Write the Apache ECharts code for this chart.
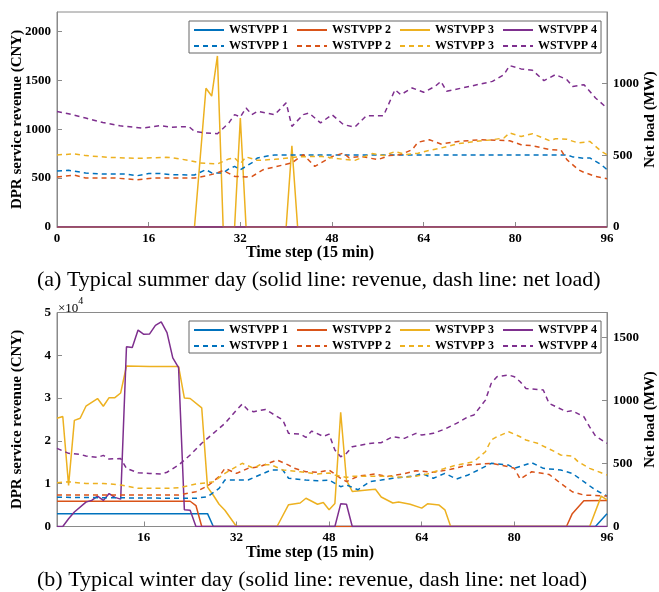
<!DOCTYPE html>
<html><head><meta charset="utf-8">
<script src="https://cdn.jsdelivr.net/npm/echarts@6/dist/echarts.min.js"></script>
<style>html,body{margin:0;padding:0;background:#fff}#c{width:659px;height:592px}</style>
</head><body><div id="c"></div>
<script>
const plantNames = ['WSTVPP 1', 'WSTVPP 2', 'WSTVPP 3', 'WSTVPP 4'];
const plantColors = ['#0072BD', '#D95319', '#EDB120', '#7E2F8E'];
const summerXTicks = [0, 16, 32, 48, 64, 80, 96];
const winterXTicks = [16, 32, 48, 64, 80, 96];

// ---- (a) summer: revenue (CNY), [time step, value]
const sumRev1 = [[0, 0], [96, 0]];
const sumRev2 = [[0, 0], [96, 0]];
const sumRev3 = [[0, 0], [24, 0], [26, 1420], [27, 1340], [28, 1750], [29, 0], [31, 0], [32, 1115], [33, 0], [40, 0], [41, 830], [42, 0], [96, 0]];
const sumRev4 = [[0, 0], [96, 0]];
// ---- (a) summer: net load (MW)
const sumLoad1 = [[0, 391], [2, 396], [5, 377], [8, 370], [12, 370], [14, 358], [16, 373], [18, 373], [20, 365], [24, 363], [26, 400], [27, 377], [29, 377], [30, 405], [31, 423], [32, 400], [34, 447], [35, 482], [37, 498], [38, 503], [89, 503], [90, 489], [92, 479], [93, 482], [95, 435], [96, 400]];
const sumLoad2 = [[0, 349], [3, 362], [5, 342], [10, 342], [14, 330], [17, 342], [24, 342], [26, 356], [28, 377], [29, 395], [30, 374], [31, 353], [33, 349], [34, 352], [36, 400], [38, 419], [41, 447], [43, 505], [45, 423], [48, 491], [50, 516], [51, 482], [53, 493], [56, 470], [58, 498], [60, 505], [62, 540], [63, 591], [65, 609], [67, 579], [70, 597], [74, 609], [79, 602], [81, 574], [83, 567], [86, 540], [88, 535], [89, 470], [91, 400], [92, 381], [94, 353], [96, 337]];
const sumLoad3 = [[0, 503], [3, 510], [5, 498], [9, 486], [14, 479], [19, 486], [20, 484], [23, 465], [25, 447], [28, 440], [30, 475], [31, 482], [32, 442], [33, 489], [35, 465], [38, 472], [42, 489], [46, 493], [50, 472], [52, 465], [55, 512], [57, 498], [59, 526], [61, 505], [63, 515], [65, 535], [67, 551], [70, 581], [73, 597], [76, 609], [78, 621], [79, 656], [81, 632], [83, 651], [86, 602], [87, 616], [89, 612], [91, 586], [93, 597], [95, 528], [96, 505]];
const sumLoad4 = [[0, 806], [2, 790], [5, 760], [8, 729], [11, 706], [15, 690], [18, 708], [20, 696], [23, 701], [24, 667], [26, 656], [28, 651], [30, 726], [31, 784], [32, 768], [33, 831], [34, 784], [35, 807], [38, 784], [40, 866], [41, 702], [43, 784], [44, 795], [46, 726], [48, 784], [50, 714], [52, 697], [54, 777], [57, 777], [59, 958], [60, 923], [62, 970], [64, 940], [66, 981], [67, 1016], [68, 947], [72, 981], [76, 1016], [78, 1063], [79, 1126], [81, 1103], [83, 1093], [85, 1021], [87, 1063], [89, 1028], [90, 981], [92, 993], [94, 900], [96, 830]];

// ---- (b) winter: revenue (CNY)
const winRev1 = [[1, 3000], [27, 3000], [28, 0], [94, 0], [96, 3000]];
const winRev2 = [[1, 5900], [24, 5900], [25, 4900], [26, 0], [89, 0], [90, 3000], [92, 6000], [96, 6100]];
const winRev3 = [[1, 25300], [2, 25700], [3, 9600], [4, 24800], [5, 25300], [6, 28100], [8, 29900], [9, 28100], [10, 30100], [11, 30100], [12, 31200], [13, 37500], [17, 37400], [22, 37400], [23, 30000], [24, 29900], [26, 27700], [27, 9200], [28, 7300], [29, 5200], [30, 3800], [32, 0], [39, 0], [41, 5100], [43, 5500], [44, 6600], [46, 5200], [47, 5600], [48, 3900], [49, 5400], [50, 26700], [51, 10800], [52, 8200], [55, 8600], [56, 8700], [57, 6900], [59, 5500], [60, 5700], [62, 5200], [64, 4300], [65, 5300], [67, 5000], [68, 3900], [69, 0], [93, 0], [95, 7100], [96, 6200]];
const winRev4 = [[1, 0], [2, 0], [3, 1800], [4, 3400], [6, 5700], [7, 6100], [8, 7100], [9, 6100], [10, 7700], [11, 6800], [12, 6400], [13, 42000], [14, 41800], [15, 45900], [16, 44900], [17, 45000], [18, 47000], [19, 47800], [20, 45300], [21, 39400], [22, 37100], [23, 3900], [24, 3800], [25, 0], [49, 0], [50, 5300], [51, 5200], [52, 0], [96, 0]];
// ---- (b) winter: net load (MW)
const winLoad1 = [[1, 232], [22, 224], [25, 224], [27, 237], [29, 303], [30, 369], [34, 369], [36, 409], [38, 449], [40, 449], [41, 383], [44, 369], [46, 364], [48, 369], [50, 316], [51, 330], [53, 292], [55, 356], [57, 369], [59, 383], [61, 392], [63, 405], [64, 422], [66, 383], [68, 422], [70, 377], [72, 409], [74, 454], [76, 502], [79, 488], [80, 462], [83, 507], [85, 462], [88, 449], [90, 422], [92, 356], [94, 290], [96, 242]];
const winLoad2 = [[1, 250], [22, 250], [25, 276], [27, 322], [29, 396], [30, 462], [32, 422], [34, 462], [36, 475], [39, 528], [41, 488], [42, 462], [44, 435], [46, 430], [48, 449], [50, 383], [51, 356], [53, 400], [56, 417], [58, 396], [61, 420], [63, 443], [66, 430], [69, 454], [72, 488], [76, 502], [79, 475], [80, 462], [81, 377], [83, 435], [86, 414], [88, 343], [90, 276], [92, 250], [96, 242]];
const winLoad3 = [[1, 348], [3, 355], [6, 342], [9, 342], [12, 330], [15, 303], [20, 303], [22, 308], [25, 337], [28, 355], [30, 422], [33, 502], [35, 462], [36, 490], [38, 490], [40, 449], [43, 435], [46, 417], [48, 425], [49, 409], [51, 390], [52, 400], [58, 400], [61, 390], [63, 400], [65, 417], [68, 462], [70, 488], [73, 515], [75, 594], [76, 687], [77, 713], [79, 753], [81, 713], [82, 687], [84, 661], [87, 594], [88, 568], [90, 560], [91, 515], [93, 462], [95, 427], [96, 409]];
const winLoad4 = [[1, 621], [3, 581], [5, 573], [6, 560], [8, 549], [9, 565], [10, 536], [12, 540], [13, 462], [15, 427], [17, 422], [19, 417], [20, 431], [22, 488], [24, 568], [26, 661], [28, 740], [30, 819], [32, 925], [33, 973], [34, 925], [35, 912], [37, 930], [38, 902], [40, 846], [41, 740], [43, 735], [44, 708], [45, 758], [47, 716], [48, 734], [49, 607], [50, 554], [51, 581], [52, 634], [55, 660], [57, 666], [59, 713], [61, 700], [63, 740], [64, 727], [66, 740], [68, 774], [70, 819], [72, 872], [73, 885], [75, 1004], [76, 1137], [77, 1190], [79, 1203], [80, 1190], [81, 1150], [82, 1097], [85, 1084], [86, 978], [89, 912], [90, 920], [92, 872], [93, 792], [94, 719], [96, 661]];

const revenueSets = [[sumRev1, sumRev2, sumRev3, sumRev4], [winRev1, winRev2, winRev3, winRev4]];
const loadSets = [[sumLoad1, sumLoad2, sumLoad3, sumLoad4], [winLoad1, winLoad2, winLoad3, winLoad4]];

const FONT = 'Liberation Serif';
const AXIS_COLOR = '#8a8a8a';
const tickLabel = { color: '#000', fontFamily: FONT, fontWeight: 'bold', fontSize: 13 };
const nameStyle = { color: '#000', fontFamily: FONT, fontWeight: 'bold', fontSize: 15 };

function yAx(gridIndex, pos, max, interval, extra) {
  return Object.assign({
    type: 'value', gridIndex, position: pos, min: 0, max, interval,
    axisLine: { show: true, lineStyle: { color: AXIS_COLOR, width: 1 } },
    axisTick: { show: true, inside: true, length: 5, lineStyle: { color: AXIS_COLOR } },
    splitLine: { show: false },
    axisLabel: Object.assign({ margin: 6, showMaxLabel: false, formatter: v => String(v) }, tickLabel),
    nameLocation: 'middle', nameMoveOverlap: false, nameTextStyle: nameStyle
  }, extra || {});
}
function xAx(gridIndex, min, ticks) {
  return {
    type: 'value', gridIndex, min, max: 96,
    axisLine: { show: true, onZero: false, lineStyle: { color: AXIS_COLOR, width: 1 } },
    axisTick: { show: true, inside: true, length: 5, customValues: ticks, lineStyle: { color: AXIS_COLOR } },
    axisLabel: Object.assign({ margin: 5, customValues: ticks, formatter: v => String(v) }, tickLabel),
    splitLine: { show: false },
    name: 'Time step (15 min)', nameLocation: 'middle', nameGap: 18, nameMoveOverlap: false,
    nameTextStyle: Object.assign({}, nameStyle, { fontSize: 16, verticalAlign: 'top', padding: [0, 44, 0, 0] })
  };
}

const series = [];
for (let k = 0; k < 2; k++) {
  for (let i = 0; i < 4; i++) {
    series.push({
      type: 'line', name: plantNames[i] + '|rev', xAxisIndex: k, yAxisIndex: 2 * k,
      data: revenueSets[k][i], symbol: 'none', animation: false,
      lineStyle: { color: plantColors[i], width: 1.5 }, itemStyle: { color: plantColors[i] }
    });
  }
  for (let i = 0; i < 4; i++) {
    series.push({
      type: 'line', name: plantNames[i] + '|load', xAxisIndex: k, yAxisIndex: 2 * k + 1,
      data: loadSets[k][i], symbol: 'none', animation: false,
      lineStyle: { color: plantColors[i], width: 1.5, type: [5, 4] }, itemStyle: { color: plantColors[i] }
    });
  }
}
const revNames = plantNames.map(n => n + '|rev');
const loadNames = plantNames.map(n => n + '|load');
const legendCommon = {
  orient: 'horizontal', itemWidth: 30, itemHeight: 10, itemGap: 8,
  selectedMode: false, itemStyle: { opacity: 0 },
  formatter: n => n.split('|')[0],
  textStyle: { color: '#000', fontFamily: FONT, fontWeight: 'bold', fontSize: 12 }
};
function legendsAt(top) {
  return [
    Object.assign({}, legendCommon, {
      data: revNames, left: 189, top, padding: [3, 4, 17, 4], z: 4,
      borderColor: '#666', borderWidth: 1, backgroundColor: '#fff'
    }),
    Object.assign({}, legendCommon, {
      data: loadNames, left: 193, top: top + 19, padding: 0, z: 5
    })
  ];
}

const chart = echarts.init(document.getElementById('c'), null, { renderer: 'canvas' });
chart.setOption({
  animation: false,
  backgroundColor: '#fff',
  title: [
    { text: '(a) Typical summer day (solid line: revenue, dash line: net load)', left: 32, top: 264,
      textStyle: { fontFamily: FONT, fontWeight: 'normal', fontSize: 22, color: '#000' } },
    { text: '(b) Typical winter day (solid line: revenue, dash line: net load)', left: 32, top: 564,
      textStyle: { fontFamily: FONT, fontWeight: 'normal', fontSize: 22, color: '#000' } }
  ],
  grid: [
    { left: 57, right: 52, top: 12, height: 215, show: true, borderColor: AXIS_COLOR, borderWidth: 1,
      containLabel: false, outerBoundsMode: 'none' },
    { left: 57, right: 52, top: 312.5, height: 214, show: true, borderColor: AXIS_COLOR, borderWidth: 1,
      containLabel: false, outerBoundsMode: 'none' }
  ],
  legend: legendsAt(21).concat(legendsAt(321)),
  xAxis: [xAx(0, 0, summerXTicks), xAx(1, 1, winterXTicks)],
  yAxis: [
    yAx(0, 'left', 2200, 500, { name: 'DPR service revenue (CNY)', nameGap: 32 }),
    yAx(0, 'right', 1500, 500, { name: 'Net load (MW)', nameGap: 36, nameRotate: 90 }),
    yAx(1, 'left', 50000, 10000, { name: 'DPR service revenue (CNY)', nameGap: 32,
      axisLabel: Object.assign({ margin: 6, showMaxLabel: true, formatter: v => String(v / 10000) }, tickLabel) }),
    yAx(1, 'right', 1700, 500, { name: 'Net load (MW)', nameGap: 36, nameRotate: 90 })
  ],
  graphic: [{
    type: 'text', left: 58, top: 296,
    style: { text: '{a|×10}{b|4}', rich: {
      a: { fontFamily: FONT, fontSize: 13, fill: '#000', padding: [6, 0, 0, 0] },
      b: { fontFamily: FONT, fontSize: 10, fill: '#000', verticalAlign: 'top' } } }
  }],
  series
});
</script></body></html>
